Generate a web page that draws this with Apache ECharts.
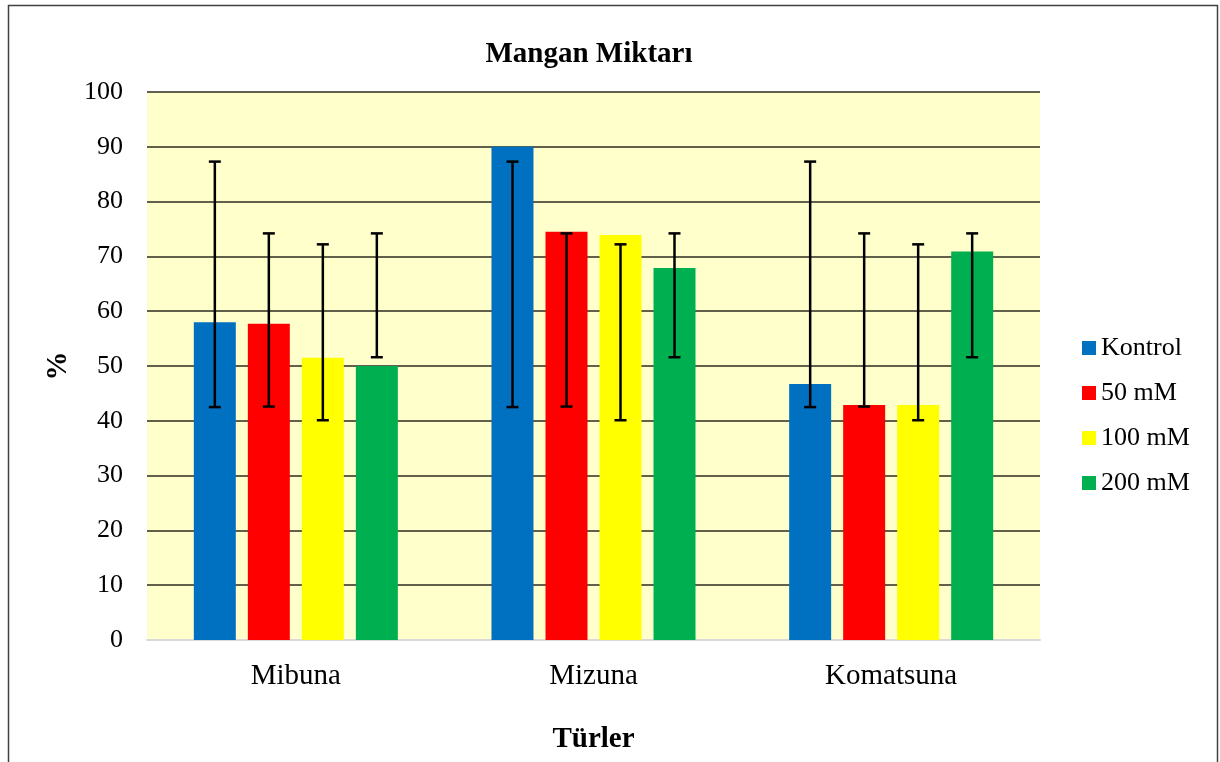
<!DOCTYPE html>
<html>
<head>
<meta charset="utf-8">
<script src="https://cdn.jsdelivr.net/npm/echarts@6/dist/echarts.min.js"></script>
<style>
  html, body { margin: 0; padding: 0; background: #fff; }
  #chart { width: 1220px; height: 762px; }
</style>
</head>
<body>
<div id="chart"></div>
<script>
  // data
  var categories = ['Mibuna', 'Mizuna', 'Komatsuna'];
  var seriesNames = ['Kontrol', '50 mM', '100 mM', '200 mM'];
  var kontrol = [58.0, 90.0, 46.7];
  var mM50 = [57.7, 74.5, 42.9];
  var mM100 = [51.5, 73.9, 42.9];
  var mM200 = [50.0, 67.9, 70.9];
  // error bar ends (low, high) - same in every group
  var errLow = [42.5, 42.6, 40.1, 51.6];
  var errHigh = [87.3, 74.2, 72.2, 74.2];
  var colors = ['#0070C0', '#FF0000', '#FFFF00', '#00B050'];

  var font = "'Liberation Serif', 'Times New Roman', serif";
  var barW = 42, barStep = 54;

  var chart = echarts.init(document.getElementById('chart'));
  var values = [kontrol, mM50, mM100, mM200];

  var series = [];
  values.forEach(function (v, i) {
    series.push({
      name: seriesNames[i],
      type: 'bar',
      data: v,
      barWidth: barW,
      barGap: '28.6%',
      itemStyle: { color: colors[i] },
      animation: false
    });
  });
  values.forEach(function (v, i) {
    var d = [];
    for (var c = 0; c < categories.length; c++) {
      d.push([c, errLow[i], errHigh[i]]);
    }
    series.push({
      type: 'custom',
      name: 'err' + i,
      data: d,
      encode: { x: 0, y: [1, 2] },
      z: 10,
      animation: false,
      renderItem: function (params, api) {
        var lo = api.coord([api.value(0), api.value(1)]);
        var hi = api.coord([api.value(0), api.value(2)]);
        var x = lo[0] + (i - 1.5) * barStep;
        var s = { stroke: '#000', lineWidth: 2.5 };
        return {
          type: 'group',
          children: [
            { type: 'line', shape: { x1: x, y1: lo[1], x2: x, y2: hi[1] }, style: s },
            { type: 'line', shape: { x1: x - 6, y1: lo[1], x2: x + 6, y2: lo[1] }, style: s },
            { type: 'line', shape: { x1: x - 6, y1: hi[1], x2: x + 6, y2: hi[1] }, style: s }
          ]
        };
      }
    });
  });

  chart.setOption({
    backgroundColor: '#fff',
    textStyle: { fontFamily: font },
    title: {
      text: 'Mangan Miktarı',
      left: 584,
      textAlign: 'center',
      top: 35,
      textStyle: { fontFamily: font, fontSize: 29, fontWeight: 'bold', color: '#000' }
    },
    legend: {
      data: seriesNames,
      orient: 'vertical',
      left: 1077,
      top: 330,
      icon: 'rect',
      itemWidth: 14,
      itemHeight: 14,
      itemGap: 19,
      textStyle: { fontFamily: font, fontSize: 26, color: '#000', lineHeight: 26 }
    },
    grid: { left: 147, right: 180, top: 92, bottom: 122, outerBoundsMode: 'none' },
    xAxis: {
      type: 'category',
      data: categories,
      name: 'Türler',
      nameLocation: 'middle',
      nameGap: 85,
      nameTextStyle: { fontFamily: font, fontSize: 29, fontWeight: 'bold', color: '#000' },
      axisLine: { lineStyle: { color: '#d9d9d9', width: 2 } },
      axisTick: { show: false },
      axisLabel: { fontFamily: font, fontSize: 29, color: '#000', margin: 22 },
      splitArea: { show: false }
    },
    yAxis: {
      type: 'value',
      min: 0,
      max: 100,
      interval: 10,
      name: '%',
      nameLocation: 'middle',
      nameGap: 72,
      nameTextStyle: { fontFamily: font, fontSize: 29, fontWeight: 'bold', color: '#000' },
      axisLine: { show: false },
      axisTick: { show: false },
      axisLabel: { fontFamily: font, fontSize: 26, color: '#000', margin: 24 },
      splitLine: { lineStyle: { color: '#2b2b20', width: 1.5 } },
      splitArea: { show: true, areaStyle: { color: ['#FFFFCC'] } }
    },
    graphic: [{
      type: 'rect',
      shape: { x: 8.5, y: 5.5, width: 1209, height: 800 },
      style: { fill: null, stroke: '#404040', lineWidth: 1.5 },
      silent: true
    }],
    series: series
  });
</script>
</body>
</html>
